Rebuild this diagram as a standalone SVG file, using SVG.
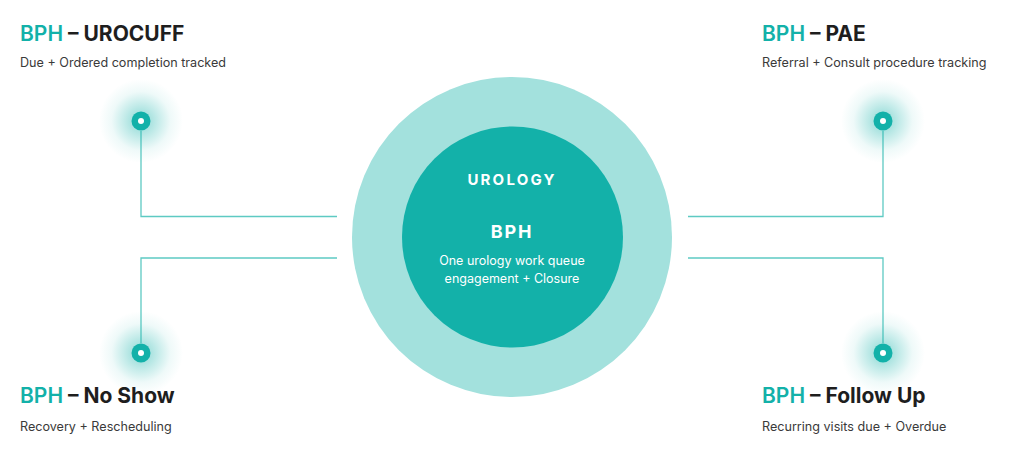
<svg xmlns="http://www.w3.org/2000/svg" width="1024" height="475" viewBox="0 0 1024 475">
<defs>
<radialGradient id="glow" cx="0.5" cy="0.5" r="0.5">
<stop offset="0" stop-color="#13B1A9" stop-opacity="0.5"/>
<stop offset="0.4" stop-color="#13B1A9" stop-opacity="0.25"/>
<stop offset="0.7" stop-color="#13B1A9" stop-opacity="0.07"/>
<stop offset="1" stop-color="#13B1A9" stop-opacity="0"/>
</radialGradient>
<style>
.t{font-family:Inter,"Liberation Sans",sans-serif;font-size:21px;font-weight:700;fill:#1e1e1e}
.t .a{fill:#13B1A9;font-weight:600}
.s{font-family:Inter,"Liberation Sans",sans-serif;font-size:12.6px;fill:#3a3a3a}
.c{fill:none;stroke:#5ECAC3;stroke-width:1.3}
.w{font-family:Inter,"Liberation Sans",sans-serif;fill:#fff;text-anchor:middle}
</style>
</defs>
<rect width="1024" height="475" fill="#fff"/>
<g id="connectors">
<path class="c" d="M141 131 V216.5 H337"/>
<path class="c" d="M141 343 V258 H337"/>
<path class="c" d="M883 131 V216.5 H688"/>
<path class="c" d="M883 343 V258 H688"/>
</g>
<g id="center">
<circle cx="512" cy="237" r="160" fill="#A3E1DD"/>
<circle cx="512.5" cy="237" r="110.5" fill="#13B1A9"/>
<text class="w" x="512" y="185" font-size="15" font-weight="700" letter-spacing="2.2">UROLOGY</text>
<text class="w" x="512" y="238" font-size="18" font-weight="700" letter-spacing="1.8">BPH</text>
<text class="w" x="512" y="265" font-size="12.5">One urology work queue</text>
<text class="w" x="512" y="283" font-size="12.5">engagement + Closure</text>
</g>
<g id="node-urocuff">
<circle cx="141" cy="121" r="42" fill="url(#glow)"/>
<circle cx="141" cy="121" r="9.5" fill="#13B1A9"/>
<circle cx="141" cy="121" r="3" fill="#fff"/>
<text class="t" x="20" y="41"><tspan class="a">BPH</tspan> – UROCUFF</text>
<text class="s" x="20" y="67">Due  + Ordered completion tracked</text>
</g>
<g id="node-pae">
<circle cx="883" cy="121" r="42" fill="url(#glow)"/>
<circle cx="883" cy="121" r="9.5" fill="#13B1A9"/>
<circle cx="883" cy="121" r="3" fill="#fff"/>
<text class="t" x="762" y="41"><tspan class="a">BPH</tspan> – PAE</text>
<text class="s" x="762" y="67">Referral + Consult procedure tracking</text>
</g>
<g id="node-noshow">
<circle cx="141" cy="353" r="42" fill="url(#glow)"/>
<circle cx="141" cy="353" r="9.5" fill="#13B1A9"/>
<circle cx="141" cy="353" r="3" fill="#fff"/>
<text class="t" x="20" y="403"><tspan class="a">BPH</tspan> – No Show</text>
<text class="s" x="20" y="431">Recovery + Rescheduling</text>
</g>
<g id="node-followup">
<circle cx="883" cy="353" r="42" fill="url(#glow)"/>
<circle cx="883" cy="353" r="9.5" fill="#13B1A9"/>
<circle cx="883" cy="353" r="3" fill="#fff"/>
<text class="t" x="762" y="403"><tspan class="a">BPH</tspan> – Follow Up</text>
<text class="s" x="762" y="431">Recurring visits due + Overdue</text>
</g>
</svg>
